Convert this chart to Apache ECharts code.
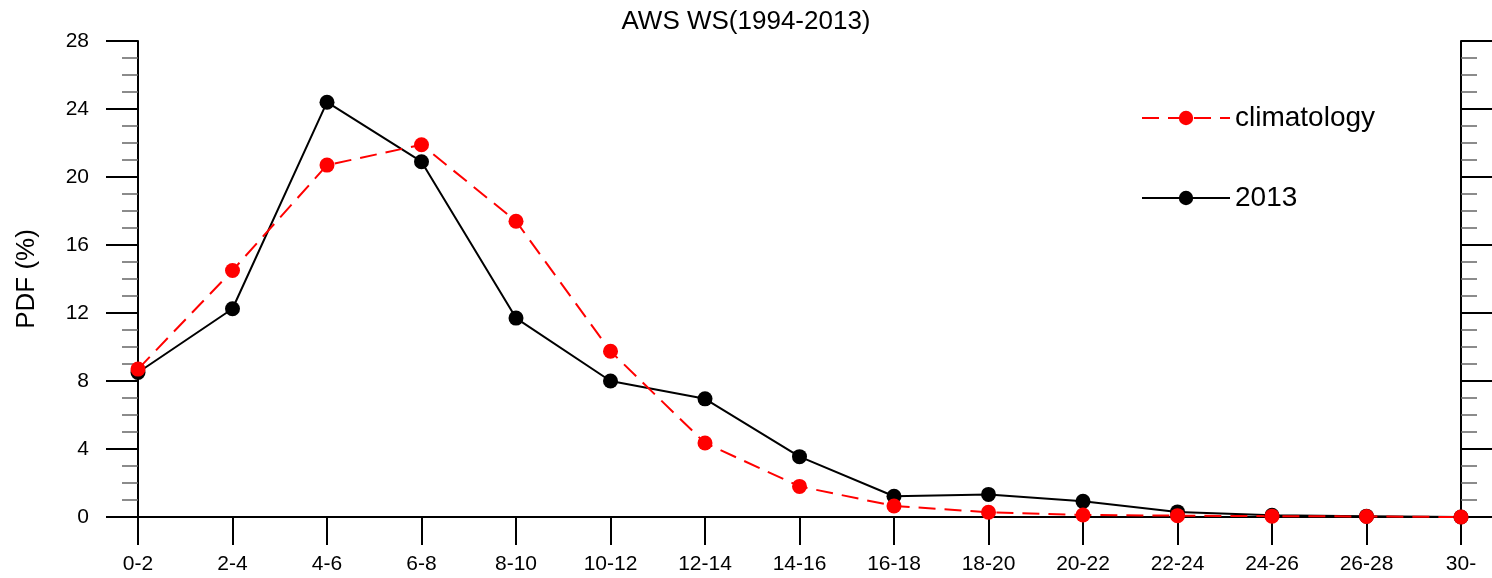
<!DOCTYPE html>
<html>
<head>
<meta charset="utf-8">
<script src="https://cdn.jsdelivr.net/npm/echarts@6/dist/echarts.min.js"></script>
<style>html,body{margin:0;padding:0;background:#fff}#c{width:1492px;height:578px}</style>
</head>
<body>
<div id="c"></div>
<script>
const categories = ['0-2','2-4','4-6','6-8','8-10','10-12','12-14','14-16','16-18','18-20','20-22','22-24','24-26','26-28','30-'];
const climatology = [8.7, 14.5, 20.7, 21.9, 17.4, 9.75, 4.35, 1.8, 0.65, 0.28, 0.12, 0.08, 0.05, 0.03, 0];
const y2013 = [8.5, 12.25, 24.4, 20.9, 11.7, 8.0, 6.95, 3.55, 1.22, 1.33, 0.92, 0.3, 0.1, 0.05, 0];
const yTicks = {min: 0, max: 28, interval: 4};
const titleText = 'AWS WS(1994-2013)';
const yName = 'PDF (%)';

const font = 'Liberation Sans, Arial, Helvetica, sans-serif';
const chart = echarts.init(document.getElementById('c'));
const yCommon = {
  type: 'value', min: yTicks.min, max: yTicks.max, interval: yTicks.interval,
  splitLine: {show: false},
  axisLine: {show: true, onZero: false, lineStyle: {color: '#000', width: 2}},
  axisTick: {show: true, inside: false, length: 32, lineStyle: {color: '#000', width: 2}},
  minorTick: {show: true, splitNumber: 4, length: 16, lineStyle: {color: '#666', width: 1.5}}
};
chart.setOption({
  animation: false,
  title: {text: titleText, left: 'center', top: 4, textStyle: {fontFamily: font, fontSize: 26, fontWeight: 'normal', color: '#000'}},
  grid: {left: 138, right: 31, top: 41, bottom: 61},
  legend: {
    orient: 'vertical', left: 1141, top: 104, padding: 0, itemWidth: 88, itemHeight: 18, itemGap: 52,
    data: ['climatology', '2013'],
    textStyle: {fontFamily: font, fontSize: 28, color: '#000', lineHeight: 28}
  },
  xAxis: [{
    type: 'category', data: categories, boundaryGap: false,
    axisLine: {lineStyle: {color: '#000', width: 2}},
    axisTick: {show: true, length: 28, alignWithLabel: true, lineStyle: {color: '#000', width: 2}},
    axisLabel: {margin: 37, fontFamily: font, fontSize: 21, color: '#000', interval: 0}
  }, {
    type: 'category', data: categories, boundaryGap: false, position: 'top',
    axisLine: {lineStyle: {color: '#000', width: 2}},
    axisTick: {show: false}, axisLabel: {show: false}
  }],
  yAxis: [Object.assign({}, yCommon, {
    position: 'left', name: yName, nameLocation: 'middle', nameGap: 98, nameRotate: 90,
    nameTextStyle: {fontFamily: font, fontSize: 26, color: '#000'},
    axisLabel: {margin: 49, fontFamily: font, fontSize: 21, color: '#000'}
  }), Object.assign({}, yCommon, {
    position: 'right', axisLabel: {show: false}
  })],
  series: [{
    name: '2013', type: 'line', data: y2013,
    symbol: 'circle', symbolSize: 15,
    itemStyle: {color: '#000'},
    lineStyle: {color: '#000', width: 2}
  }, {
    name: 'climatology', type: 'line', data: climatology,
    symbol: 'circle', symbolSize: 15,
    itemStyle: {color: '#ff0000'},
    lineStyle: {color: '#ff0000', width: 2, type: [17, 9]}
  }]
});
</script>
</body>
</html>
